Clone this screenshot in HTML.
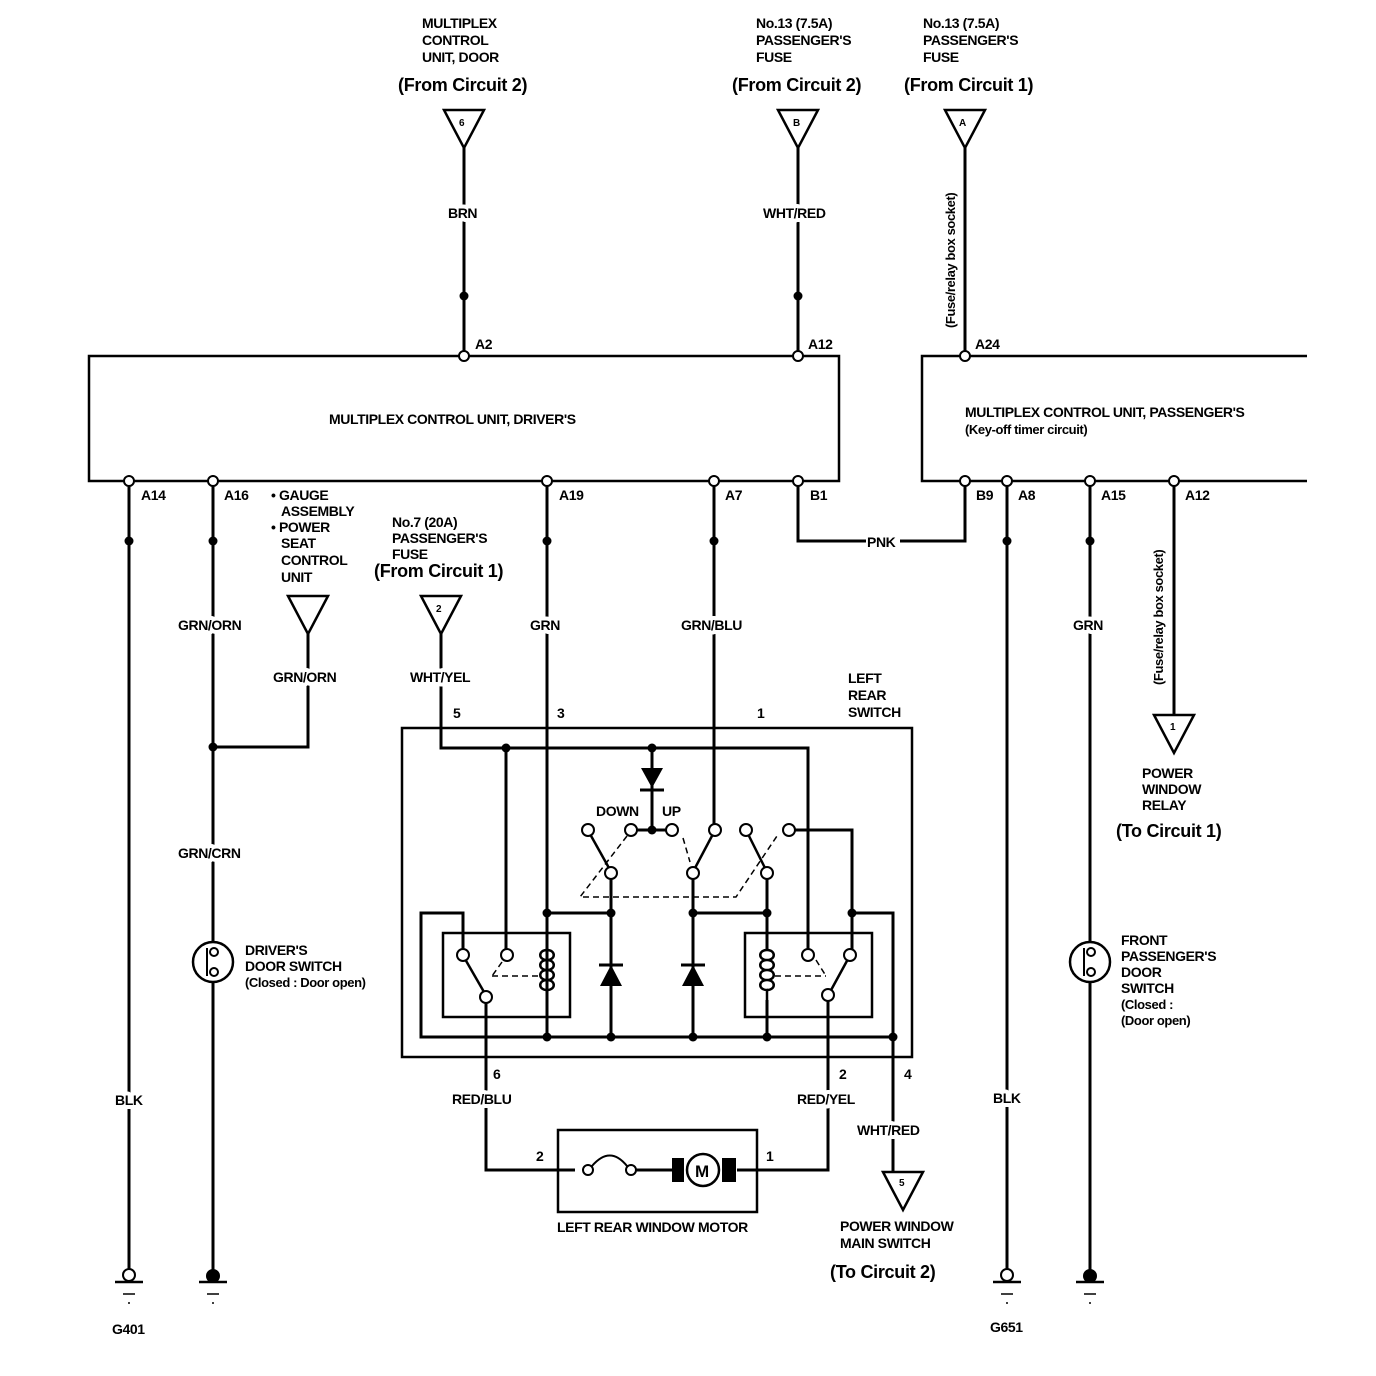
<!DOCTYPE html>
<html><head><style>
html,body{margin:0;padding:0;background:#fff;}
svg{display:block;}
text{font-family:"Liberation Sans",sans-serif;font-size:14px;fill:#000;}
.t text{font-size:14px;letter-spacing:-0.4px;font-weight:bold;}
.w{paint-order:stroke;stroke:#fff;stroke-width:8px;stroke-linejoin:round;}
.c text{font-size:18px;font-weight:bold;letter-spacing:-0.3px;}
</style></head><body>
<svg width="1376" height="1376" viewBox="0 0 1376 1376" xmlns="http://www.w3.org/2000/svg">
<g stroke="#000" fill="none" stroke-width="3">
<polygon points="444,110 484,110 464,148" stroke-width="2.5"/>
<polygon points="778,110 818,110 798,148" stroke-width="2.5"/>
<polygon points="945,110 985,110 965,148" stroke-width="2.5"/>
<line x1="464" y1="148" x2="464" y2="352"/>
<line x1="798" y1="148" x2="798" y2="352"/>
<line x1="965" y1="148" x2="965" y2="352"/>
<rect x="89" y="356" width="750" height="125" stroke-width="2.5"/>
<polyline points="1307,356 922,356 922,481 1307,481" stroke-width="2.5"/>
<line x1="129" y1="485" x2="129" y2="1272"/>
<line x1="213" y1="485" x2="213" y2="942"/>
<line x1="213" y1="982" x2="213" y2="1272"/>
<line x1="547" y1="485" x2="547" y2="1037"/>
<line x1="714" y1="485" x2="714" y2="826"/>
<polyline points="798,485 798,541 866,541"/>
<polyline points="900,541 965,541 965,485"/>
<line x1="1007" y1="485" x2="1007" y2="1272"/>
<line x1="1090" y1="485" x2="1090" y2="942"/>
<line x1="1090" y1="982" x2="1090" y2="1272"/>
<line x1="1174" y1="485" x2="1174" y2="715"/>
<polygon points="288,596 328,596 308,634" stroke-width="2.5"/>
<polyline points="308,634 308,747 213,747"/>
<polygon points="421,596 461,596 441,634" stroke-width="2.5"/>
<polyline points="441,634 441,748 808,748 808,950"/>
<polygon points="1154,715 1194,715 1174,753" stroke-width="2.5"/>
<rect x="402" y="728" width="510" height="329" stroke-width="2.5"/>
<line x1="506" y1="748" x2="506" y2="950"/>
<line x1="652" y1="748" x2="652" y2="830"/>
<line x1="547" y1="913" x2="611" y2="913"/>
<line x1="693" y1="913" x2="767" y2="913"/>
<line x1="611" y1="878" x2="611" y2="1037"/>
<line x1="693" y1="878" x2="693" y2="1037"/>
<line x1="767" y1="878" x2="767" y2="950"/>
<polyline points="794,830 852,830 852,950"/>
<polyline points="852,913 893,913 893,1172"/>
<polyline points="463,950 463,913 421,913 421,1037 893,1037"/>
<line x1="636" y1="830" x2="667" y2="830"/>
<line x1="590" y1="834" x2="609" y2="868" stroke-width="2.5"/>
<line x1="713" y1="834" x2="695" y2="868" stroke-width="2.5"/>
<line x1="748" y1="834" x2="765" y2="868" stroke-width="2.5"/>
<rect x="443" y="933" width="127" height="84" stroke-width="2.5"/>
<rect x="745" y="933" width="127" height="84" stroke-width="2.5"/>
<line x1="465" y1="959" x2="484" y2="992" stroke-width="2.5"/>
<line x1="848" y1="959" x2="830" y2="992" stroke-width="2.5"/>
<line x1="547" y1="1000" x2="547" y2="1037"/>
<line x1="767" y1="1000" x2="767" y2="1037"/>
<polyline points="486,1001 486,1170 575,1170"/>
<polyline points="828,999 828,1170 737,1170"/>
<line x1="636" y1="1170" x2="672" y2="1170"/>
<rect x="558" y="1130" width="199" height="82" stroke-width="2.5"/>
<path d="M592,1166 Q610,1145 627,1166" stroke-width="2"/>
<circle cx="703" cy="1170" r="16" stroke-width="2.5"/>
<polygon points="883,1172 923,1172 903,1210" stroke-width="2.5"/>
<circle cx="213" cy="962" r="20" stroke-width="2.5"/>
<circle cx="1090" cy="962" r="20" stroke-width="2.5"/>
</g>
<g stroke="#000" fill="none" stroke-width="1.5" stroke-dasharray="6,4">
<polyline points="627,836 580,897 736,897 777,836"/>
<line x1="683" y1="838" x2="690" y2="862"/>
<line x1="492" y1="976" x2="540" y2="976"/>
<line x1="775" y1="976" x2="826" y2="976"/>
<line x1="502" y1="962" x2="492" y2="976"/>
<line x1="816" y1="960" x2="826" y2="976"/>
</g>
<rect x="672" y="1158" width="12" height="24" fill="#000"/>
<rect x="722" y="1158" width="14" height="24" fill="#000"/>
<text x="695" y="1177" style="font-size:17px;font-weight:bold">M</text>
<g stroke="#000" fill="none" stroke-width="2.5">
<path d="M547,950 c-9,0 -9,10 0,10 c-9,0 -9,10 0,10 c-9,0 -9,10 0,10 c-9,0 -9,10 0,10 l0,10"/>
<path d="M547,950 c9,0 9,10 0,10 c9,0 9,10 0,10 c9,0 9,10 0,10 c9,0 9,10 0,10"/>
<path d="M767,950 c-9,0 -9,10 0,10 c-9,0 -9,10 0,10 c-9,0 -9,10 0,10 c-9,0 -9,10 0,10 l0,10"/>
<path d="M767,950 c9,0 9,10 0,10 c9,0 9,10 0,10 c9,0 9,10 0,10 c9,0 9,10 0,10"/>
<line x1="547" y1="933" x2="547" y2="950"/>
<line x1="767" y1="913" x2="767" y2="950"/>
</g>
<polygon points="641,768 663,768 652,788" fill="#000"/>
<line x1="640" y1="790" x2="664" y2="790" stroke="#000" stroke-width="3"/>
<polygon points="600,986 622,986 611,965" fill="#000"/>
<line x1="599" y1="965" x2="623" y2="965" stroke="#000" stroke-width="3"/>
<polygon points="682,986 704,986 693,965" fill="#000"/>
<line x1="681" y1="965" x2="705" y2="965" stroke="#000" stroke-width="3"/>
<g stroke="#000" fill="#fff" stroke-width="2">
<line x1="207" y1="948" x2="207" y2="976"/>
<circle cx="214" cy="952" r="4"/><circle cx="214" cy="972" r="4"/>
<line x1="1084" y1="948" x2="1084" y2="976"/>
<circle cx="1091" cy="952" r="4"/><circle cx="1091" cy="972" r="4"/>
</g>
<g stroke="#000" fill="#fff" stroke-width="2">
<circle cx="464" cy="356" r="5"/><circle cx="798" cy="356" r="5"/><circle cx="965" cy="356" r="5"/>
<circle cx="129" cy="481" r="5"/><circle cx="213" cy="481" r="5"/><circle cx="547" cy="481" r="5"/>
<circle cx="714" cy="481" r="5"/><circle cx="798" cy="481" r="5"/>
<circle cx="965" cy="481" r="5"/><circle cx="1007" cy="481" r="5"/><circle cx="1090" cy="481" r="5"/><circle cx="1174" cy="481" r="5"/>
<circle cx="588" cy="830" r="6"/><circle cx="631" cy="830" r="6"/><circle cx="672" cy="830" r="6"/>
<circle cx="715" cy="830" r="6"/><circle cx="746" cy="830" r="6"/><circle cx="789" cy="830" r="6"/>
<circle cx="611" cy="873" r="6"/><circle cx="693" cy="873" r="6"/><circle cx="767" cy="873" r="6"/>
<circle cx="463" cy="955" r="6"/><circle cx="507" cy="955" r="6"/><circle cx="486" cy="997" r="6"/>
<circle cx="808" cy="955" r="6"/><circle cx="850" cy="955" r="6"/><circle cx="828" cy="995" r="6"/>
<circle cx="588" cy="1170" r="5"/><circle cx="631" cy="1170" r="5"/>
<circle cx="129" cy="1275" r="6"/><circle cx="1007" cy="1275" r="6"/>
</g>
<g fill="#000">
<circle cx="464" cy="296" r="4.5"/><circle cx="798" cy="296" r="4.5"/>
<circle cx="129" cy="541" r="4.5"/><circle cx="213" cy="541" r="4.5"/><circle cx="547" cy="541" r="4.5"/><circle cx="714" cy="541" r="4.5"/>
<circle cx="1007" cy="541" r="4.5"/><circle cx="1090" cy="541" r="4.5"/>
<circle cx="213" cy="747" r="4.5"/>
<circle cx="506" cy="748" r="4.5"/><circle cx="652" cy="748" r="4.5"/><circle cx="652" cy="830" r="4.5"/>
<circle cx="547" cy="913" r="4.5"/><circle cx="611" cy="913" r="4.5"/><circle cx="693" cy="913" r="4.5"/><circle cx="767" cy="913" r="4.5"/><circle cx="852" cy="913" r="4.5"/>
<circle cx="547" cy="1037" r="4.5"/><circle cx="611" cy="1037" r="4.5"/><circle cx="693" cy="1037" r="4.5"/><circle cx="767" cy="1037" r="4.5"/><circle cx="893" cy="1037" r="4.5"/>
<circle cx="213" cy="1276" r="7"/><circle cx="1090" cy="1276" r="7"/>
</g>
<g stroke="#000" stroke-width="2.5">
<line x1="115" y1="1282" x2="143" y2="1282"/><line x1="123" y1="1294" x2="135" y2="1294" stroke-width="1.5"/><line x1="128" y1="1303" x2="130" y2="1303" stroke-width="1.5"/>
<line x1="199" y1="1282" x2="227" y2="1282"/><line x1="207" y1="1294" x2="219" y2="1294" stroke-width="1.5"/><line x1="212" y1="1303" x2="214" y2="1303" stroke-width="1.5"/>
<line x1="993" y1="1282" x2="1021" y2="1282"/><line x1="1001" y1="1294" x2="1013" y2="1294" stroke-width="1.5"/><line x1="1006" y1="1303" x2="1008" y2="1303" stroke-width="1.5"/>
<line x1="1076" y1="1282" x2="1104" y2="1282"/><line x1="1084" y1="1294" x2="1096" y2="1294" stroke-width="1.5"/><line x1="1089" y1="1303" x2="1091" y2="1303" stroke-width="1.5"/>
</g>
<g class="t">
<text x="422" y="28">MULTIPLEX</text><text x="422" y="45">CONTROL</text><text x="422" y="62">UNIT, DOOR</text>
<text x="756" y="28">No.13 (7.5A)</text><text x="756" y="45">PASSENGER'S</text><text x="756" y="62">FUSE</text>
<text x="923" y="28">No.13 (7.5A)</text><text x="923" y="45">PASSENGER'S</text><text x="923" y="62">FUSE</text>
<text class="w" x="448" y="218">BRN</text><text class="w" x="763" y="218">WHT/RED</text>
<text x="475" y="349">A2</text><text x="808" y="349">A12</text><text x="975" y="349">A24</text>
<text x="329" y="424">MULTIPLEX CONTROL UNIT, DRIVER'S</text>
<text x="965" y="417">MULTIPLEX CONTROL UNIT, PASSENGER'S</text>
<text x="965" y="434" style="font-size:13px">(Key-off timer circuit)</text>
<text x="141" y="500">A14</text><text x="224" y="500">A16</text><text x="559" y="500">A19</text><text x="725" y="500">A7</text><text x="810" y="500">B1</text>
<text x="976" y="500">B9</text><text x="1018" y="500">A8</text><text x="1101" y="500">A15</text><text x="1185" y="500">A12</text>
<text x="271" y="500">• GAUGE</text><text x="281" y="516">ASSEMBLY</text><text x="271" y="532">• POWER</text><text x="281" y="548">SEAT</text><text x="281" y="565">CONTROL</text><text x="281" y="582">UNIT</text>
<text x="392" y="527">No.7 (20A)</text><text x="392" y="543">PASSENGER'S</text><text x="392" y="559">FUSE</text>
<text x="867" y="547">PNK</text>
<text class="w" x="178" y="630">GRN/ORN</text><text class="w" x="530" y="630">GRN</text><text class="w" x="681" y="630">GRN/BLU</text><text class="w" x="1073" y="630">GRN</text>
<text class="w" x="273" y="682">GRN/ORN</text><text class="w" x="410" y="682">WHT/YEL</text>
<text x="848" y="683">LEFT</text><text x="848" y="700">REAR</text><text x="848" y="717">SWITCH</text>
<text x="453" y="718">5</text><text x="557" y="718">3</text><text x="757" y="718">1</text>
<text x="1142" y="778">POWER</text><text x="1142" y="794">WINDOW</text><text x="1142" y="810">RELAY</text>
<text x="596" y="816">DOWN</text><text x="662" y="816">UP</text>
<text class="w" x="178" y="858">GRN/CRN</text>
<text x="245" y="955">DRIVER'S</text><text x="245" y="971">DOOR SWITCH</text><text x="245" y="987" style="font-size:13px">(Closed : Door open)</text>
<text x="1121" y="945">FRONT</text><text x="1121" y="961">PASSENGER'S</text><text x="1121" y="977">DOOR</text><text x="1121" y="993">SWITCH</text><text x="1121" y="1009" style="font-size:13px">(Closed :</text><text x="1121" y="1025" style="font-size:13px">(Door open)</text>
<text x="493" y="1079">6</text><text x="839" y="1079">2</text><text x="904" y="1079">4</text>
<text class="w" x="452" y="1104">RED/BLU</text><text class="w" x="797" y="1104">RED/YEL</text>
<text class="w" x="115" y="1105">BLK</text><text class="w" x="993" y="1103">BLK</text>
<text class="w" x="857" y="1135">WHT/RED</text>
<text x="536" y="1161">2</text><text x="766" y="1161">1</text>
<text x="557" y="1232">LEFT REAR WINDOW MOTOR</text>
<text x="840" y="1231">POWER WINDOW</text><text x="840" y="1248">MAIN SWITCH</text>
<text x="112" y="1334">G401</text><text x="990" y="1332">G651</text>
<text x="959" y="126" style="font-size:10px">A</text><text x="459" y="126" style="font-size:10px">6</text><text x="793" y="126" style="font-size:10px">B</text>
<text x="436" y="612" style="font-size:10px">2</text><text x="1170" y="730" style="font-size:10px">1</text><text x="899" y="1186" style="font-size:10px">5</text>
<text class="w" transform="translate(955,328) rotate(-90)" style="font-size:13px">(Fuse/relay box socket)</text>
<text class="w" transform="translate(1163,685) rotate(-90)" style="font-size:13px">(Fuse/relay box socket)</text>
</g>
<g class="c">
<text x="398" y="91">(From Circuit 2)</text>
<text x="732" y="91">(From Circuit 2)</text>
<text x="904" y="91">(From Circuit 1)</text>
<text x="374" y="577">(From Circuit 1)</text>
<text x="1116" y="837">(To Circuit 1)</text>
<text x="830" y="1278">(To Circuit 2)</text>
</g>
</svg>
</body></html>
